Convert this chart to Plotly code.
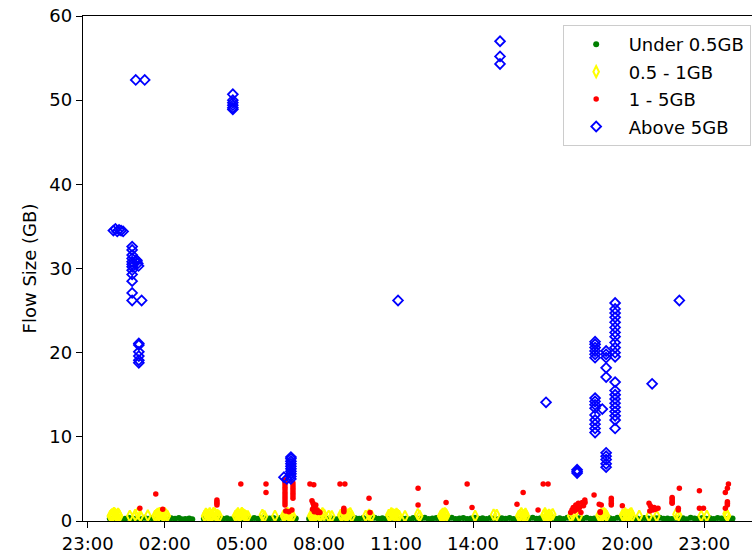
import plotly.graph_objects as go
import pandas as pd

# ---- data (hours counted from 00:00 of the first day) ----
green_t = [
    23.86, 24.00, 24.15, 24.30, 24.45, 24.60, 24.75, 24.90, 25.05, 25.20,
    25.35, 25.50, 25.65, 25.80, 25.95, 26.10, 26.25, 26.40, 26.55, 26.66,
    26.80, 26.95, 27.07, 27.52, 27.67, 27.82, 27.97, 28.12, 28.27, 28.42,
    28.57, 28.73, 28.88, 29.03, 29.18, 29.33, 29.48, 29.63, 29.78, 29.93,
    30.08, 30.23, 30.38, 30.53, 30.68, 30.83, 30.98, 31.10, 31.62, 31.77,
    31.92, 32.07, 32.22, 32.37, 32.52, 32.67, 32.82, 32.97, 33.12, 33.27,
    33.42, 33.57, 33.72, 33.87, 34.02, 34.17, 34.32, 34.47, 34.62, 34.77,
    34.92, 35.07, 35.22, 35.37, 35.52, 35.67, 35.82, 35.97, 36.12, 36.27,
    36.42, 36.57, 36.72, 36.87, 37.02, 37.17, 37.32, 37.47, 37.62, 37.77,
    37.92, 38.07, 38.22, 38.37, 38.52, 38.67, 38.82, 38.97, 39.12, 39.27,
    39.42, 39.57, 39.72, 39.87, 40.02, 40.17, 40.32, 40.47, 40.62, 40.77,
    40.92, 41.07, 41.22, 41.37, 41.52, 41.67, 41.82, 41.97, 42.12, 42.27,
    42.42, 42.57, 42.72, 42.87, 43.02, 43.17, 43.32, 43.47, 43.62, 43.77,
    43.92, 44.07, 44.22, 44.37, 44.52, 44.67, 44.82, 44.97, 45.12, 45.27,
    45.42, 45.57, 45.72, 45.87, 46.02, 46.17, 46.32, 46.47, 46.62, 46.77,
    46.92, 47.07, 47.22, 47.37, 47.52, 47.67, 47.82, 47.97, 48.10,
]
green_y = [
    0.30, 0.22, 0.35, 0.18, 0.28, 0.40, 0.25, 0.32, 0.20, 0.38,
    0.27, 0.35, 0.22, 0.30, 0.42, 0.25, 0.33, 0.28, 0.36, 0.20,
    0.25, 0.30, 0.22, 0.28, 0.35, 0.24, 0.40, 0.30, 0.26, 0.34,
    0.22, 0.30, 0.38, 0.25, 0.32, 0.20, 0.36, 0.28, 0.40, 0.24,
    0.30, 0.35, 0.22, 0.38, 0.27, 0.33, 0.25, 0.30, 0.28, 0.36,
    0.24, 0.32, 0.40, 0.26, 0.30, 0.22, 0.35, 0.28, 0.38, 0.25,
    0.33, 0.27, 0.36, 0.22, 0.30, 0.40, 0.26, 0.34, 0.24, 0.31,
    0.38, 0.25, 0.32, 0.28, 0.22, 0.35, 0.30, 0.26, 0.40, 0.24,
    0.30, 0.36, 0.22, 0.33, 0.27, 0.38, 0.25, 0.31, 0.35, 0.23,
    0.29, 0.40, 0.26, 0.32, 0.24, 0.36, 0.30, 0.22, 0.34, 0.28,
    0.37, 0.25, 0.31, 0.23, 0.35, 0.28, 0.40, 0.26, 0.33, 0.30,
    0.22, 0.36, 0.27, 0.32, 0.25, 0.38, 0.30, 0.24, 0.34, 0.28,
    0.40, 0.26, 0.31, 0.23, 0.36, 0.29, 0.33, 0.25, 0.38, 0.30,
    0.24, 0.35, 0.28, 0.32, 0.22, 0.37, 0.30, 0.26, 0.34, 0.40,
    0.27, 0.31, 0.24, 0.36, 0.29, 0.33, 0.22, 0.38, 0.30, 0.26,
    0.35, 0.28, 0.32, 0.24, 0.37, 0.30, 0.26, 0.33, 0.29,
]

yellow_t = [
    23.88, 23.95, 24.02, 24.10, 24.18, 24.24, 24.64, 24.85, 24.95, 25.05,
    25.34, 25.62, 25.72, 25.80, 25.90, 26.00, 26.10, 27.55, 27.65, 27.75,
    27.85, 27.95, 28.05, 28.12, 28.75, 28.85, 28.95, 29.05, 29.15, 29.23,
    29.80, 29.88, 30.29, 30.62, 30.72, 30.82, 30.92, 30.98, 31.68, 31.78,
    31.88, 31.98, 32.08, 32.20, 32.38, 32.50, 32.85, 32.95, 33.05, 33.15,
    33.28, 33.82, 33.95, 34.05, 34.72, 34.82, 34.92, 35.02, 35.12, 35.35,
    35.85, 35.92, 36.74, 36.82, 36.90, 36.97, 38.08, 38.80, 38.92, 39.78,
    39.88, 40.00, 40.08, 40.76, 40.85, 40.95, 41.10, 41.80, 41.88, 42.13,
    42.90, 43.00, 43.10, 43.20, 43.82, 43.92, 44.02, 44.12, 44.20, 44.47,
    44.85, 45.15, 45.90, 46.00, 46.88, 47.10, 47.85, 47.90,
    23.92, 23.99, 24.06, 24.14, 24.21, 25.67, 25.76, 25.85, 25.95, 26.05,
    27.60, 27.70, 27.80, 27.90, 28.00, 28.80, 28.90, 29.00, 29.10, 30.67,
    30.77, 30.87, 31.73, 31.83, 31.93, 32.03, 32.14, 32.90, 33.00, 33.10,
    33.22, 34.77, 34.87, 34.97, 35.07, 36.78, 36.86, 36.94, 39.83, 39.94,
    40.04, 40.80, 40.90, 41.02, 42.95, 43.05, 43.15, 43.87, 43.97, 44.07,
    44.16, 47.88,
]
yellow_y = [
    0.60, 0.80, 0.95, 0.70, 0.85, 0.55, 0.60, 0.70, 0.90, 0.60,
    0.65, 0.60, 0.85, 0.95, 0.75, 0.90, 0.60, 0.60, 0.75, 0.90,
    0.65, 0.85, 0.70, 0.55, 0.60, 0.90, 0.70, 0.80, 0.60, 0.55,
    0.70, 0.55, 0.60, 0.60, 0.80, 0.65, 0.90, 0.60, 0.60, 0.85,
    0.70, 0.90, 0.65, 0.75, 0.60, 0.55, 0.70, 0.90, 0.60, 0.80,
    0.55, 0.60, 0.75, 0.60, 0.70, 0.90, 0.75, 0.85, 0.60, 0.55,
    0.80, 0.60, 0.60, 0.85, 0.90, 0.65, 0.60, 0.75, 0.70, 0.60,
    0.90, 0.70, 0.55, 0.70, 0.60, 0.75, 0.80, 0.60, 0.75, 0.60,
    0.65, 0.85, 0.90, 0.60, 0.70, 0.90, 0.75, 0.85, 0.60, 0.60,
    0.60, 0.60, 0.80, 0.70, 0.60, 0.60, 0.85, 0.60,
    0.70, 0.65, 0.85, 0.60, 0.75, 0.70, 0.65, 0.85, 0.60, 0.75,
    0.85, 0.60, 0.70, 0.95, 0.60, 0.75, 0.60, 0.95, 0.70, 0.70,
    0.95, 0.60, 0.70, 0.60, 0.80, 0.60, 0.90, 0.60, 0.80, 0.65,
    0.90, 0.60, 0.80, 0.60, 0.70, 0.70, 0.60, 0.80, 0.70, 0.60,
    0.85, 0.90, 0.60, 0.65, 0.60, 0.70, 0.80, 0.60, 0.70, 0.60,
    0.90, 0.75,
]

red_t = [
    25.03, 25.65, 25.92, 28.03, 28.03, 28.03, 28.03, 28.96, 29.94, 29.94,
    30.68, 30.68, 30.68, 30.68, 30.68, 30.68, 30.68, 30.68, 30.68, 30.68,
    30.68, 30.99, 30.99, 30.99, 30.99, 30.99, 30.99, 30.99, 30.71, 30.83,
    30.95, 31.65, 31.80, 31.73, 31.77, 31.80, 31.85, 31.90, 31.95, 32.00,
    31.75, 31.82, 31.88, 31.93, 32.04, 32.82, 33.01, 32.97, 32.97, 32.97,
    33.95, 33.99, 35.86, 35.86, 36.95, 37.77, 37.96, 39.71, 39.95, 40.53,
    40.73, 40.92, 41.80, 41.85, 41.90, 41.95, 42.00, 42.05, 42.10, 42.15,
    42.20, 42.25, 42.30, 42.35, 42.36, 42.71, 42.91, 42.99, 42.95, 42.95,
    43.38, 43.38, 43.38, 43.38, 43.81, 44.85, 44.90, 44.95, 45.00, 45.05,
    45.10, 45.20, 44.88, 45.75, 45.75, 45.75, 45.75, 45.75, 46.03, 45.99,
    45.99, 46.81, 46.81, 46.97, 47.82, 47.82, 47.90, 47.90, 47.90, 47.90,
    47.94,
]
red_y = [
    1.5, 3.2, 1.4, 2.5, 2.3, 2.1, 1.9, 4.4, 4.4, 3.4,
    4.9, 4.6, 4.3, 4.0, 3.7, 3.4, 3.1, 2.8, 2.5, 2.2,
    1.9, 4.5, 4.2, 3.9, 3.6, 3.3, 3.0, 2.7, 1.2, 1.1,
    1.3, 4.4, 4.3, 2.4, 2.1, 1.8, 1.5, 1.2, 1.0, 1.1,
    1.4, 1.1, 1.9, 1.3, 1.0, 4.4, 4.4, 1.5, 1.3, 1.1,
    2.7, 1.0, 3.9, 1.9, 2.2, 4.4, 1.6, 2.0, 3.4, 1.3,
    4.4, 4.4, 1.0, 1.3, 1.6, 1.2, 1.9, 1.4, 2.1, 1.6,
    1.0, 2.2, 1.8, 2.5, 2.2, 3.1, 2.0, 1.9, 1.1, 1.0,
    2.7, 2.4, 2.1, 1.9, 1.8, 2.1, 1.8, 1.5, 1.3, 1.6,
    1.4, 1.5, 1.2, 2.8, 2.6, 2.4, 2.2, 2.1, 3.9, 1.5,
    1.3, 3.6, 1.5, 1.5, 3.4, 1.5, 3.9, 2.3, 2.1, 1.9,
    4.4,
]

blue_t = [
    24.00, 24.08, 24.15, 24.22, 24.30, 24.38, 24.73, 24.73, 24.73, 24.73,
    24.73, 24.73, 24.73, 24.73, 24.73, 24.73, 24.73, 24.73, 24.90, 24.95,
    24.98, 24.92, 25.10, 24.87, 25.22, 24.99, 24.99, 24.99, 24.99, 24.99,
    24.99, 28.65, 28.65, 28.65, 28.65, 28.65, 28.65, 30.91, 30.91, 30.91,
    30.91, 30.91, 30.91, 30.91, 30.91, 30.91, 30.91, 30.64, 30.75, 35.08,
    39.05, 39.05, 39.05, 40.84, 42.05, 42.05, 42.05, 42.75, 42.75, 42.75,
    42.75, 42.75, 42.75, 42.75, 42.75, 42.75, 42.75, 42.75, 42.75, 42.75,
    42.75, 42.75, 43.03, 43.18, 43.18, 43.18, 43.18, 43.18, 43.18, 43.18,
    43.18, 43.18, 43.18, 43.53, 43.53, 43.53, 43.53, 43.53, 43.53, 43.53,
    43.53, 43.53, 43.53, 43.53, 43.53, 43.53, 43.53, 43.53, 43.53, 43.53,
    43.53, 43.53, 43.53, 43.53, 43.53, 44.97, 46.03,
]
blue_y = [
    34.5, 34.7, 34.4, 34.6, 34.5, 34.4, 32.6, 32.2, 31.6, 31.2,
    30.8, 30.5, 30.2, 29.8, 29.3, 28.5, 27.1, 26.2, 31.0, 30.6,
    30.3, 30.9, 26.2, 52.4, 52.4, 21.1, 20.9, 20.1, 19.6, 19.1,
    18.8, 50.7, 50.0, 49.7, 49.4, 49.1, 48.9, 7.6, 7.4, 7.1,
    6.8, 6.5, 6.2, 5.9, 5.6, 5.3, 5.0, 5.2, 5.0, 26.2,
    57.0, 55.2, 54.3, 14.1, 6.1, 5.9, 5.7, 21.3, 21.0, 20.6,
    20.2, 19.8, 19.4, 14.6, 14.2, 13.8, 13.4, 12.6, 12.0, 11.5,
    11.0, 10.5, 13.3, 20.2, 19.8, 19.4, 18.2, 17.1, 8.1, 7.7,
    7.3, 6.8, 6.4, 25.9, 25.2, 24.7, 24.2, 23.6, 23.0, 22.4,
    21.9, 21.2, 20.6, 20.0, 19.5, 16.5, 15.5, 15.0, 14.5, 14.0,
    13.5, 13.0, 12.5, 12.0, 11.0, 16.3, 26.2,
]

tick_hours = [23, 26, 29, 32, 35, 38, 41, 44, 47]
tick_text = ["23:00", "02:00", "05:00", "08:00", "11:00", "14:00", "17:00", "20:00", "23:00"]
x_range_hours = [22.817, 48.858]
y_ticks = [0, 10, 20, 30, 40, 50, 60]

base = pd.Timestamp("2020-01-01")


def to_dt(hours):
    return [base + pd.Timedelta(hours=h) for h in hours]


fig = go.Figure()
fig.add_trace(go.Scatter(
    x=to_dt(green_t), y=green_y, mode="markers", name="Under 0.5GB",
    legendgroup="g1",
    marker=dict(symbol="circle", size=6, color="#008000", line=dict(width=0)),
))
fig.add_trace(go.Scatter(
    x=to_dt(yellow_t), y=yellow_y, mode="markers", name="0.5 - 1GB",
    legendgroup="g2",
    marker=dict(symbol="diamond-tall-open", size=8, color="#FFFF00",
                line=dict(width=2, color="#FFFF00")),
))
fig.add_trace(go.Scatter(
    x=to_dt(red_t), y=red_y, mode="markers", name="1 - 5GB",
    legendgroup="g3",
    marker=dict(symbol="circle", size=5.5, color="#FF0000", line=dict(width=0)),
))
fig.add_trace(go.Scatter(
    x=to_dt(blue_t), y=blue_y, mode="markers", name="Above 5GB",
    legendgroup="g4",
    marker=dict(symbol="diamond-open", size=7.5, color="#0000FF",
                line=dict(width=1.8, color="#0000FF")),
))

axis_font = dict(family="DejaVu Sans", size=18, color="black")
fig.update_layout(
    width=752, height=555,
    margin=dict(l=83, r=0, t=16, b=34),
    paper_bgcolor="white", plot_bgcolor="white",
    font=axis_font,
    showlegend=True,
    legend=dict(
        x=0.998, y=0.982, xanchor="right", yanchor="top",
        bordercolor="#cccccc", borderwidth=1, bgcolor="white",
        font=dict(family="DejaVu Sans", size=18, color="black"),
        tracegroupgap=1, itemwidth=55,
    ),
    xaxis=dict(
        type="date", range=to_dt(x_range_hours),
        tickvals=to_dt(tick_hours), ticktext=tick_text,
        ticks="outside", ticklen=6, tickwidth=1.3, tickcolor="black",
        showline=True, linecolor="black", linewidth=1.3, mirror=True,
        showgrid=False, zeroline=False, tickfont=axis_font,
    ),
    yaxis=dict(
        range=[0, 60], tickvals=y_ticks,
        ticks="outside", ticklen=6, tickwidth=1.3, tickcolor="black",
        showline=True, linecolor="black", linewidth=1.3,
        showgrid=False, zeroline=False, tickfont=axis_font,
        title=dict(text="Flow Size (GB)", font=axis_font, standoff=8),
    ),
)

fig.write_html(
    "out.html",
    config={"displayModeBar": False},
    post_script="document.body.style.margin='0';document.body.style.overflow='hidden';",
)
